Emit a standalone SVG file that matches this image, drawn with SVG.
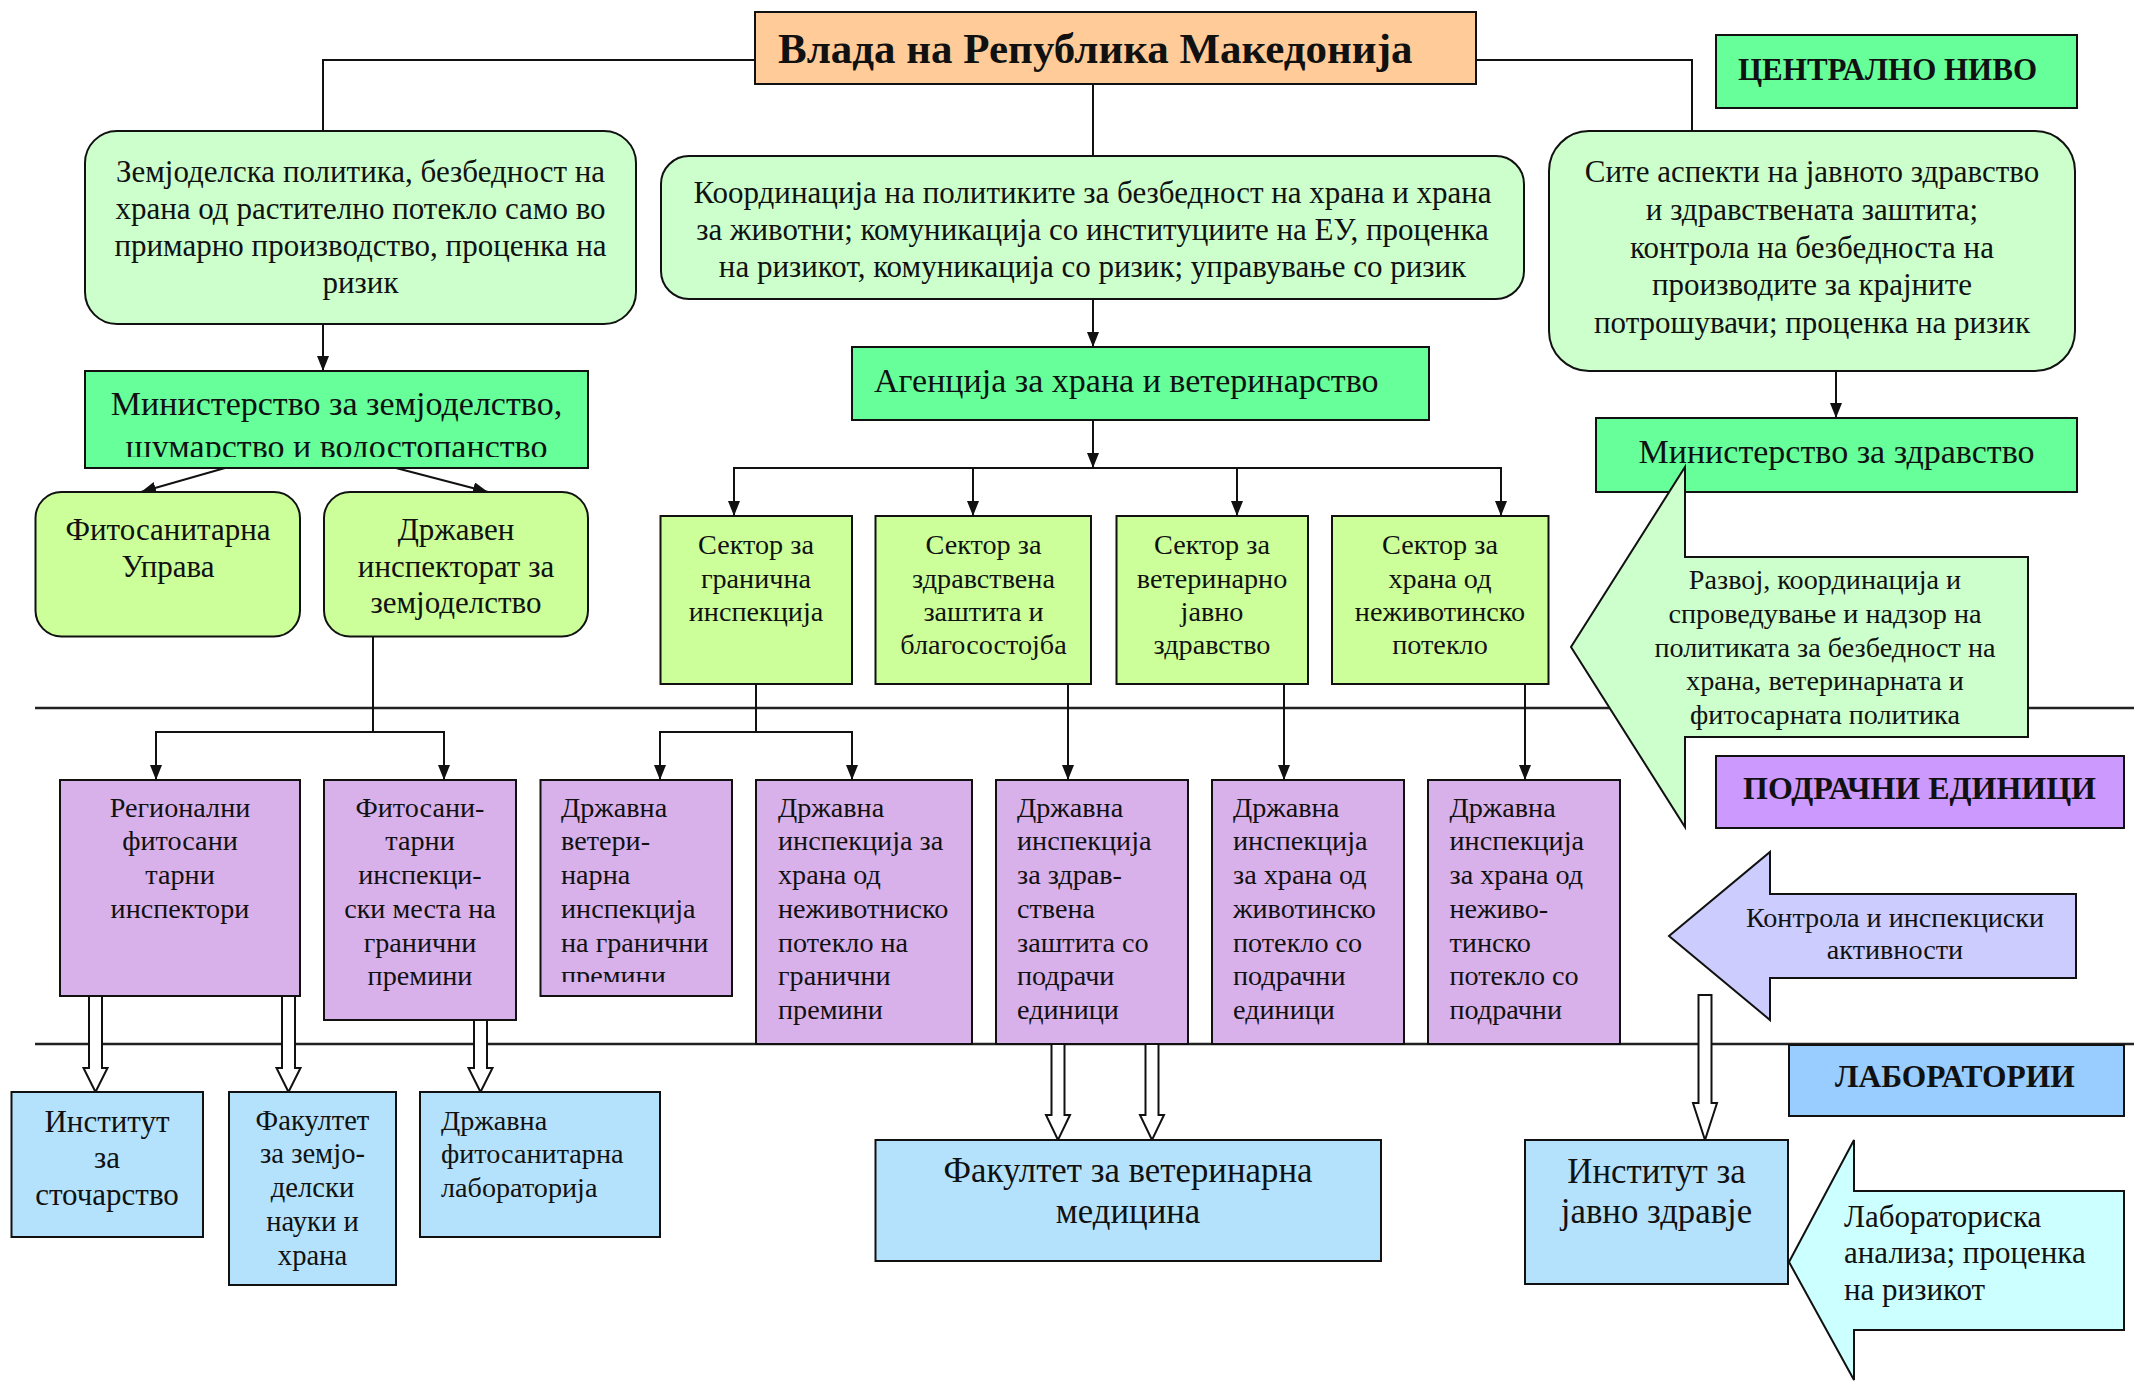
<svg xmlns="http://www.w3.org/2000/svg" width="2134" height="1382" viewBox="0 0 2134 1382">
<style>
text{font-family:"Liberation Serif","DejaVu Serif",serif;fill:#111}
.b{stroke:#111;stroke-width:2}
.t30{font-size:31px}
.t33{font-size:34px}
.t35{font-size:34.8px}
.t27{font-size:28.2px}
.t28{font-size:28.6px}
.c{text-anchor:middle}
.bold{font-weight:bold}
.con{fill:none;stroke:#111;stroke-width:2}
.hol{fill:#fff;stroke:#111;stroke-width:2}
.sep{stroke:#222;stroke-width:2.5}
</style>
<defs>
<marker id="ah" markerUnits="userSpaceOnUse" markerWidth="15" markerHeight="12" refX="15" refY="6" orient="auto">
<path d="M0,0 L15,6 L0,12 Z" fill="#111"/>
</marker>
<clipPath id="clipMin"><rect x="85" y="371" width="503" height="86"/></clipPath>
<clipPath id="clipP3"><rect x="540" y="780" width="192" height="202"/></clipPath>
</defs>
<rect width="2134" height="1382" fill="#fff"/>
<g id="separators">
<line class="sep" x1="35" y1="708" x2="2134" y2="708"/>
<line class="sep" x1="35" y1="1044" x2="2134" y2="1044"/>
</g>
<g id="connectors">
<polyline class="con" points="755,60 323,60 323,131"/>
<line class="con" x1="1093" y1="84" x2="1093" y2="156"/>
<polyline class="con" points="1476,60 1692,60 1692,131"/>
<line class="con" x1="323" y1="324" x2="323" y2="371" marker-end="url(#ah)"/>
<line class="con" x1="1093" y1="299" x2="1093" y2="347" marker-end="url(#ah)"/>
<line class="con" x1="1836" y1="371" x2="1836" y2="418" marker-end="url(#ah)"/>
<polygon points="1748,371 1762,371 1755,357" fill="#111"/>
<line class="con" x1="1093" y1="420" x2="1093" y2="468" marker-end="url(#ah)"/>
<polyline class="con" points="734,516 734,468 1501,468 1501,516" marker-end="url(#ah)"/>
<line class="con" x1="734" y1="480" x2="734" y2="516" marker-end="url(#ah)"/>
<line class="con" x1="973" y1="468" x2="973" y2="516" marker-end="url(#ah)"/>
<line class="con" x1="1237" y1="468" x2="1237" y2="516" marker-end="url(#ah)"/>
<line class="con" x1="225" y1="468" x2="141" y2="492" marker-end="url(#ah)"/>
<line class="con" x1="396" y1="468" x2="488" y2="492" marker-end="url(#ah)"/>
<line class="con" x1="373" y1="636" x2="373" y2="732"/>
<polyline class="con" points="156,780 156,732 444,732 444,780" marker-end="url(#ah)"/>
<line class="con" x1="156" y1="745" x2="156" y2="780" marker-end="url(#ah)"/>
<line class="con" x1="756" y1="684" x2="756" y2="732"/>
<polyline class="con" points="660,780 660,732 852,732 852,780" marker-end="url(#ah)"/>
<line class="con" x1="660" y1="745" x2="660" y2="780" marker-end="url(#ah)"/>
<line class="con" x1="1068" y1="684" x2="1068" y2="780" marker-end="url(#ah)"/>
<line class="con" x1="1284" y1="684" x2="1284" y2="780" marker-end="url(#ah)"/>
<line class="con" x1="1525" y1="684" x2="1525" y2="780" marker-end="url(#ah)"/>
<path class="hol" d="M89,996 L102,996 L102,1068 L107.5,1068 L95.5,1092 L83.5,1068 L89,1068 Z"/>
<path class="hol" d="M282,996 L295,996 L295,1068 L300.5,1068 L288.5,1092 L276.5,1068 L282,1068 Z"/>
<path class="hol" d="M474,1020 L487,1020 L487,1068 L492.5,1068 L480.5,1092 L468.5,1068 L474,1068 Z"/>
<path class="hol" d="M1051.5,1044 L1064.5,1044 L1064.5,1115 L1070,1115 L1058,1140 L1046,1115 L1051.5,1115 Z"/>
<path class="hol" d="M1145.5,1044 L1158.5,1044 L1158.5,1115 L1164,1115 L1152,1140 L1140,1115 L1145.5,1115 Z"/>
<path class="hol" d="M1698.5,995 L1711.5,995 L1711.5,1103 L1717,1103 L1705,1140 L1693,1103 L1698.5,1103 Z"/>
</g>
<g id="n-title">
<rect class="b" x="755" y="12" width="721" height="72" fill="#FFCC99"/>
<text class="bold" x="778" y="63" font-size="43">Влада на Република Македонија</text>
</g>
<g id="n-central">
<rect class="b" x="1716" y="35" width="361" height="73" fill="#66FF99"/>
<text class="bold" x="1738" y="80" font-size="31">ЦЕНТРАЛНО НИВО</text>
</g>
<g id="n-agripolicy">
<rect class="b" x="85" y="131" width="551" height="193" rx="32" fill="#CCFFCC"/>
<text class="t30 c"><tspan x="360.5" y="182">Земјоделска политика, безбедност на</tspan><tspan x="360.5" y="219">храна од растително потекло само во</tspan><tspan x="360.5" y="256">примарно производство, проценка на</tspan><tspan x="360.5" y="293">ризик</tspan></text>
</g>
<g id="n-coord">
<rect class="b" x="661" y="156" width="863" height="143" rx="28" fill="#CCFFCC"/>
<text class="t30 c"><tspan x="1092.5" y="203">Координација на политиките за безбедност на храна и храна</tspan><tspan x="1092.5" y="240">за животни; комуникација со институциите на ЕУ, проценка</tspan><tspan x="1092.5" y="277">на ризикот, комуникација со ризик; управување со ризик</tspan></text>
</g>
<g id="n-health">
<rect class="b" x="1549" y="131" width="526" height="240" rx="40" fill="#CCFFCC"/>
<text class="t30 c"><tspan x="1812" y="182">Сите аспекти на јавното здравство</tspan><tspan x="1812" y="220">и здравствената заштита;</tspan><tspan x="1812" y="258">контрола на безбедноста на</tspan><tspan x="1812" y="295">производите за крајните</tspan><tspan x="1812" y="333">потрошувачи; проценка на ризик</tspan></text>
</g>
<g id="n-minagri">
<rect class="b" x="85" y="371" width="503" height="97" fill="#66FF99"/>
<text class="t33 c" clip-path="url(#clipMin)"><tspan x="336.5" y="415">Министерство за земјоделство,</tspan><tspan x="336.5" y="458">шумарство и водостопанство</tspan></text>
</g>
<g id="n-agency">
<rect class="b" x="852" y="347" width="577" height="73" fill="#66FF99"/>
<text class="t33" x="874" y="392">Агенција за храна и ветеринарство</text>
</g>
<g id="n-minhealth">
<rect class="b" x="1596" y="418" width="481" height="74" fill="#66FF99"/>
<text class="t33 c" x="1836.5" y="463">Министерство за здравство</text>
</g>
<g id="n-fito">
<rect class="b" x="35.5" y="492" width="264.5" height="144.5" rx="26" fill="#CCFF99"/>
<text class="t30 c"><tspan x="168" y="540">Фитосанитарна</tspan><tspan x="168" y="577">Управа</tspan></text>
</g>
<g id="n-inspagri">
<rect class="b" x="324" y="492" width="264" height="144.5" rx="26" fill="#CCFF99"/>
<text class="t30 c"><tspan x="456" y="540">Државен</tspan><tspan x="456" y="577">инспекторат за</tspan><tspan x="456" y="613">земјоделство</tspan></text>
</g>
<g id="n-sec1">
<rect class="b" x="660.5" y="516" width="191.5" height="168" fill="#CCFF99"/>
<text class="t27 c"><tspan x="756" y="554">Сектор за</tspan><tspan x="756" y="588">гранична</tspan><tspan x="756" y="621">инспекција</tspan></text>
</g>
<g id="n-sec2">
<rect class="b" x="875.5" y="516" width="215.5" height="168" fill="#CCFF99"/>
<text class="t27 c"><tspan x="983.5" y="554">Сектор за</tspan><tspan x="983.5" y="588">здравствена</tspan><tspan x="983.5" y="621">заштита и</tspan><tspan x="983.5" y="654">благосостојба</tspan></text>
</g>
<g id="n-sec3">
<rect class="b" x="1116.5" y="516" width="191.5" height="168" fill="#CCFF99"/>
<text class="t27 c"><tspan x="1212" y="554">Сектор за</tspan><tspan x="1212" y="588">ветеринарно</tspan><tspan x="1212" y="621">јавно</tspan><tspan x="1212" y="654">здравство</tspan></text>
</g>
<g id="n-sec4">
<rect class="b" x="1332" y="516" width="216.5" height="168" fill="#CCFF99"/>
<text class="t27 c"><tspan x="1440" y="554">Сектор за</tspan><tspan x="1440" y="588">храна од</tspan><tspan x="1440" y="621">неживотинско</tspan><tspan x="1440" y="654">потекло</tspan></text>
</g>
<g id="n-p1">
<rect class="b" x="60" y="780" width="240" height="216" fill="#D8B1EB"/>
<text class="t27 c"><tspan x="180" y="817">Регионални</tspan><tspan x="180" y="850">фитосани</tspan><tspan x="180" y="884">тарни</tspan><tspan x="180" y="918">инспектори</tspan></text>
</g>
<g id="n-p2">
<rect class="b" x="324" y="780" width="192" height="240" fill="#D8B1EB"/>
<text class="t27 c"><tspan x="420" y="817">Фитосани-</tspan><tspan x="420" y="850">тарни</tspan><tspan x="420" y="884">инспекци-</tspan><tspan x="420" y="918">ски места на</tspan><tspan x="420" y="952">гранични</tspan><tspan x="420" y="985">премини</tspan></text>
</g>
<g id="n-p3">
<rect class="b" x="540.5" y="780" width="191.5" height="216" fill="#D8B1EB"/>
<text class="t27" clip-path="url(#clipP3)"><tspan x="561" y="817">Државна</tspan><tspan x="561" y="850">ветери-</tspan><tspan x="561" y="884">нарна</tspan><tspan x="561" y="918">инспекција</tspan><tspan x="561" y="952">на гранични</tspan><tspan x="561" y="985">премини</tspan></text>
</g>
<g id="n-p4">
<rect class="b" x="756" y="780" width="216" height="264" fill="#D8B1EB"/>
<text class="t27"><tspan x="778" y="817">Државна</tspan><tspan x="778" y="850">инспекција за</tspan><tspan x="778" y="884">храна од</tspan><tspan x="778" y="918">неживотниско</tspan><tspan x="778" y="952">потекло на</tspan><tspan x="778" y="985">гранични</tspan><tspan x="778" y="1019">премини</tspan></text>
</g>
<g id="n-p5">
<rect class="b" x="996" y="780" width="192" height="264" fill="#D8B1EB"/>
<text class="t27"><tspan x="1017" y="817">Државна</tspan><tspan x="1017" y="850">инспекција</tspan><tspan x="1017" y="884">за здрав-</tspan><tspan x="1017" y="918">ствена</tspan><tspan x="1017" y="952">заштита со</tspan><tspan x="1017" y="985">подрачи</tspan><tspan x="1017" y="1019">единици</tspan></text>
</g>
<g id="n-p6">
<rect class="b" x="1212" y="780" width="192" height="264" fill="#D8B1EB"/>
<text class="t27"><tspan x="1233" y="817">Државна</tspan><tspan x="1233" y="850">инспекција</tspan><tspan x="1233" y="884">за храна од</tspan><tspan x="1233" y="918">животинско</tspan><tspan x="1233" y="952">потекло со</tspan><tspan x="1233" y="985">подрачни</tspan><tspan x="1233" y="1019">единици</tspan></text>
</g>
<g id="n-p7">
<rect class="b" x="1428" y="780" width="192" height="264" fill="#D8B1EB"/>
<text class="t27"><tspan x="1449.5" y="817">Државна</tspan><tspan x="1449.5" y="850">инспекција</tspan><tspan x="1449.5" y="884">за храна од</tspan><tspan x="1449.5" y="918">неживо-</tspan><tspan x="1449.5" y="952">тинско</tspan><tspan x="1449.5" y="985">потекло со</tspan><tspan x="1449.5" y="1019">подрачни</tspan></text>
</g>
<g id="n-regional">
<rect class="b" x="1716" y="756" width="408" height="72" fill="#CC99FF"/>
<text class="bold" x="1743" y="799" font-size="32">ПОДРАЧНИ ЕДИНИЦИ</text>
</g>
<g id="n-labs">
<rect class="b" x="1789" y="1045" width="335" height="71" fill="#99CCFF"/>
<text class="bold" x="1835" y="1087" font-size="31.5">ЛАБОРАТОРИИ</text>
</g>
<g id="n-b1">
<rect class="b" x="11.5" y="1092" width="191.5" height="145" fill="#B4E2FD"/>
<text class="t30 c"><tspan x="107" y="1132">Институт</tspan><tspan x="107" y="1168">за</tspan><tspan x="107" y="1205">сточарство</tspan></text>
</g>
<g id="n-b2">
<rect class="b" x="229" y="1092" width="167" height="193" fill="#B4E2FD"/>
<text class="t28 c"><tspan x="312.5" y="1130">Факултет</tspan><tspan x="312.5" y="1163">за земјо-</tspan><tspan x="312.5" y="1197">делски</tspan><tspan x="312.5" y="1231">науки и</tspan><tspan x="312.5" y="1265">храна</tspan></text>
</g>
<g id="n-b3">
<rect class="b" x="420" y="1092" width="240" height="145" fill="#B4E2FD"/>
<text class="t27"><tspan x="441" y="1130">Државна</tspan><tspan x="441" y="1163">фитосанитарна</tspan><tspan x="441" y="1197">лабораторија</tspan></text>
</g>
<g id="n-b4">
<rect class="b" x="875.5" y="1140" width="505.5" height="121" fill="#B4E2FD"/>
<text class="t35 c"><tspan x="1128" y="1182">Факултет за ветеринарна</tspan><tspan x="1128" y="1223">медицина</tspan></text>
</g>
<g id="n-b5">
<rect class="b" x="1525" y="1140" width="263" height="144" fill="#B4E2FD"/>
<text class="t35 c"><tspan x="1656.5" y="1183">Институт за</tspan><tspan x="1656.5" y="1223">јавно здравје</tspan></text>
</g>
<g id="n-callout-policy">
<polygon class="b" points="1685,557 2028,557 2028,737 1685,737 1685,827 1571,647 1685,467" fill="#CCFFCC"/>
<text class="t27 c"><tspan x="1825" y="589">Развој, координација и</tspan><tspan x="1825" y="623">спроведување и надзор на</tspan><tspan x="1825" y="657">политиката за безбедност на</tspan><tspan x="1825" y="690">храна, ветеринарната и</tspan><tspan x="1825" y="724">фитосарната политика</tspan></text>
</g>
<g id="n-callout-control">
<polygon class="b" points="1770,894 2076,894 2076,978 1770,978 1770,1020 1669,936 1770,852" fill="#CCCCFF"/>
<text class="t27 c"><tspan x="1895" y="927">Контрола и инспекциски</tspan><tspan x="1895" y="959">активности</tspan></text>
</g>
<g id="n-callout-lab">
<polygon class="b" points="1854,1191 2124,1191 2124,1330 1854,1330 1854,1380 1789,1262 1854,1140" fill="#CCFFFF"/>
<text class="t30"><tspan x="1844" y="1227">Лабораториска</tspan><tspan x="1844" y="1263">анализа; проценка</tspan><tspan x="1844" y="1300">на ризикот</tspan></text>
</g>
</svg>
